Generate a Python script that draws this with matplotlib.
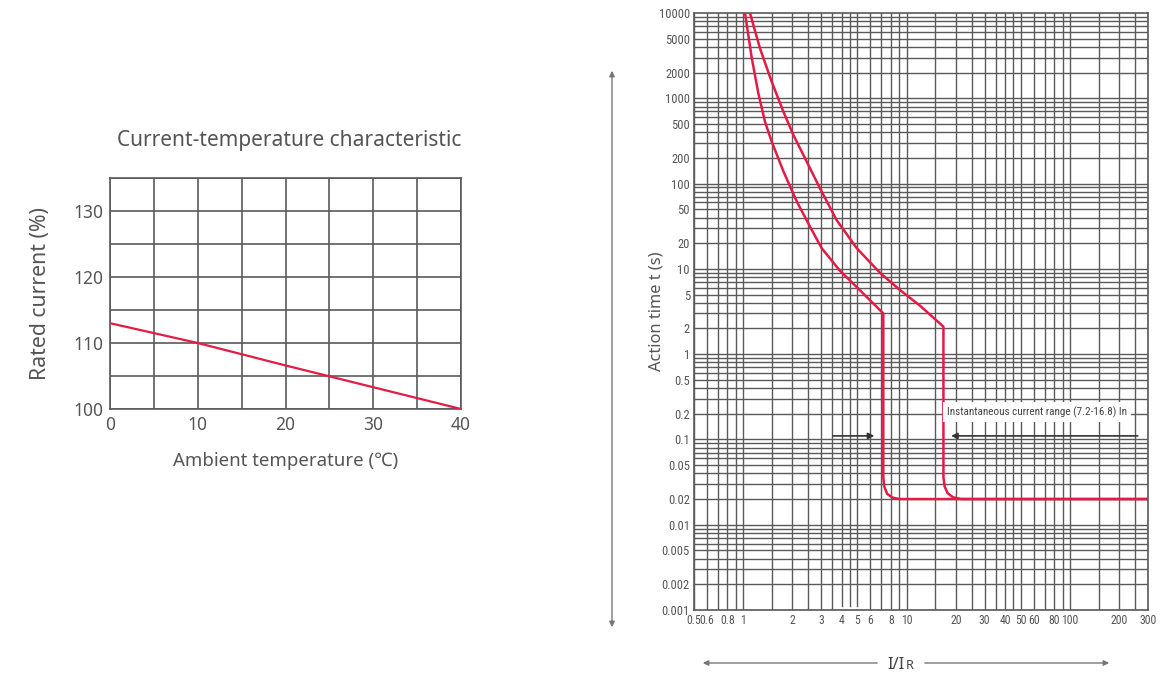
import numpy as np
import matplotlib
matplotlib.use("Agg")
from matplotlib import pyplot as plt
from matplotlib.ticker import FixedLocator, NullFormatter

# left chart: rated current vs ambient temperature
temp = [0, 10, 20, 30, 40]
rated = [113, 110, 106.6, 103.3, 100]
temp_ticks = [0, 10, 20, 30, 40]
rated_ticks = [100, 110, 120, 130]

# right chart: tripping curves (I/IR, time in s)
low_x = [1.026, 1.127, 1.237, 1.36, 1.495, 1.76, 2.125, 2.565, 3.02, 3.91, 5.19, 7.2,
         7.2, 7.3, 7.6, 8.2, 9.0, 300]
low_t = [10000, 3000, 1150, 530, 310, 140, 62, 31.2, 17.5, 9.5, 5.6, 3.0,
         0.036, 0.028, 0.023, 0.0208, 0.02, 0.02]
high_x = [1.10, 1.267, 1.495, 1.76, 2.03, 2.45, 2.95, 3.73, 4.95, 6.87, 9.11, 12.08, 16.8,
          16.8, 17.1, 17.8, 19.2, 21.5, 300]
high_t = [10000, 3845, 1560, 700, 370, 180, 88, 37.3, 17.5, 9.0, 5.64, 3.7, 2.1,
          0.036, 0.028, 0.0235, 0.021, 0.02, 0.02]

x_ticks = [0.5, 0.6, 0.8, 1, 2, 3, 4, 5, 6, 8, 10, 20, 30, 40, 50, 60, 80, 100, 200, 300]
x_labels = ["0.5", "0.6", "0.8", "1", "2", "3", "4", "5", "6", "8", "10", "20", "30",
            "40", "50", "60", "80", "100", "200", "300"]
t_ticks = [10000, 5000, 2000, 1000, 500, 200, 100, 50, 20, 10, 5, 2, 1,
           0.5, 0.2, 0.1, 0.05, 0.02, 0.01, 0.005, 0.002, 0.001]
t_labels = ["10000", "5000", "2000", "1000", "500", "200", "100", "50", "20", "10", "5",
            "2", "1", "0.5", "0.2", "0.1", "0.05", "0.02", "0.01", "0.005", "0.002", "0.001"]

RED = "#e31b45"
GRID = "#5a5a5a"
TXT = "#555555"
NARROW = ["Roboto Condensed", "Liberation Sans Narrow", "Liberation Sans", "DejaVu Sans"]

plt.rcParams["font.family"] = ["Noto Sans", "DejaVu Sans"]
fig = plt.figure(figsize=(11.76, 6.75), dpi=100)

# ---- left chart
ax1 = fig.add_axes([110/1176, 1-409/675, 351/1176, 231/675])
ax1.plot(temp, rated, color=RED, lw=1.6, zorder=3)
ax1.set_xlim(0, 40)
ax1.set_ylim(100, 135)
ax1.set_xticks(temp_ticks)
ax1.set_yticks(rated_ticks)
ax1.xaxis.set_minor_locator(FixedLocator(np.arange(5, 40, 10)))
ax1.yaxis.set_minor_locator(FixedLocator(np.arange(105, 136, 10)))
ax1.grid(which="both", color=GRID, lw=1.2)
ax1.tick_params(which="both", length=0, labelsize=12.5, labelcolor=TXT, pad=5)
for s in ax1.spines.values():
    s.set_color(GRID)
    s.set_linewidth(1.2)
ax1.set_title("Current-temperature characteristic", fontsize=15, color="#555555", pad=23, x=0.51)
ax1.set_xlabel("Ambient temperature (\u2103)", fontsize=13.4, color="#555555", labelpad=13)
ax1.set_ylabel("Rated current (%)", fontsize=15.3, color="#555555")
ax1.yaxis.set_label_coords(-0.168, 0.5)

# ---- right chart
ax2 = fig.add_axes([694/1176, 1-610/675, 454/1176, 597/675])
ax2.set_xscale("log")
ax2.set_yscale("log")
ax2.set_xlim(0.5, 300)
ax2.set_ylim(0.001, 10000)

xgrid = []
for d in [0.1, 1, 10, 100]:
    for m in [1, 1.5, 2, 2.5, 3, 3.5, 4, 4.5, 5, 6, 7, 8, 9]:
        v = round(m*d, 4)
        if 0.5 <= v <= 300:
            xgrid.append(v)
short = [4, 4.5, 5]
for v in xgrid:
    lo = 0.006 if v in short else 0
    ax2.axvline(v, ymin=lo, color=GRID, lw=1.0, zorder=1)
for e in range(-3, 4):
    for m in range(1, 10):
        ax2.axhline(m*10.0**e, color=GRID, lw=1.0, zorder=1)

ax2.plot(low_x, low_t, color=RED, lw=1.8, zorder=4)
ax2.plot(high_x, high_t, color=RED, lw=1.8, zorder=4)

ax2.xaxis.set_major_locator(FixedLocator(x_ticks))
ax2.set_xticklabels(x_labels)
ax2.xaxis.set_minor_formatter(NullFormatter())
ax2.yaxis.set_major_locator(FixedLocator(t_ticks))
ax2.set_yticklabels(t_labels)
ax2.yaxis.set_minor_formatter(NullFormatter())
ax2.tick_params(which="both", length=0, labelsize=9, labelcolor=TXT, pad=3)
ax2.tick_params(axis="x", labelsize=8.5)
for lab in ax2.get_xticklabels() + ax2.get_yticklabels():
    lab.set_family(NARROW)
for s in ax2.spines.values():
    s.set_color(GRID)
    s.set_linewidth(1.2)
ax2.set_ylabel("Action time t (s)", fontsize=11.8, color="#555555")
ax2.yaxis.set_label_coords(-0.065, 0.5)

# instantaneous range annotation
ax2.text(17.6, 0.21, "Instantaneous current range (7.2-16.8) In",
         ha="left", va="center", fontsize=8, color="#444444", family=NARROW, zorder=5,
         bbox=dict(facecolor="white", edgecolor="none", pad=3))
ax2.annotate("", xy=(6.6, 0.11), xytext=(3.4, 0.11), zorder=5,
             arrowprops=dict(arrowstyle="-|>", color="#333333", lw=1.2, mutation_scale=9))
ax2.annotate("", xy=(18, 0.11), xytext=(270, 0.11), zorder=5,
             arrowprops=dict(arrowstyle="-|>", color="#333333", lw=1.2, mutation_scale=9))

# outer axis arrows
fig.add_artist(matplotlib.patches.FancyArrowPatch((612/1176, 1-630/675), (612/1176, 1-68/675),
               transform=fig.transFigure, arrowstyle="<|-|>", color="#777777", lw=1.0, mutation_scale=8))
fig.add_artist(matplotlib.patches.FancyArrowPatch((880/1176, 1-663/675), (700/1176, 1-663/675),
               transform=fig.transFigure, arrowstyle="-|>", color="#777777", lw=1.0, mutation_scale=8))
fig.add_artist(matplotlib.patches.FancyArrowPatch((922/1176, 1-663/675), (1112/1176, 1-663/675),
               transform=fig.transFigure, arrowstyle="-|>", color="#777777", lw=1.0, mutation_scale=8))
fig.text(905/1176, 1-669/675, "I/I", ha="right", va="baseline", fontsize=12, color="#444444")
fig.text(906/1176, 1-669/675, "R", ha="left", va="baseline", fontsize=9, color="#444444")

plt.savefig("out.png", dpi=100)
